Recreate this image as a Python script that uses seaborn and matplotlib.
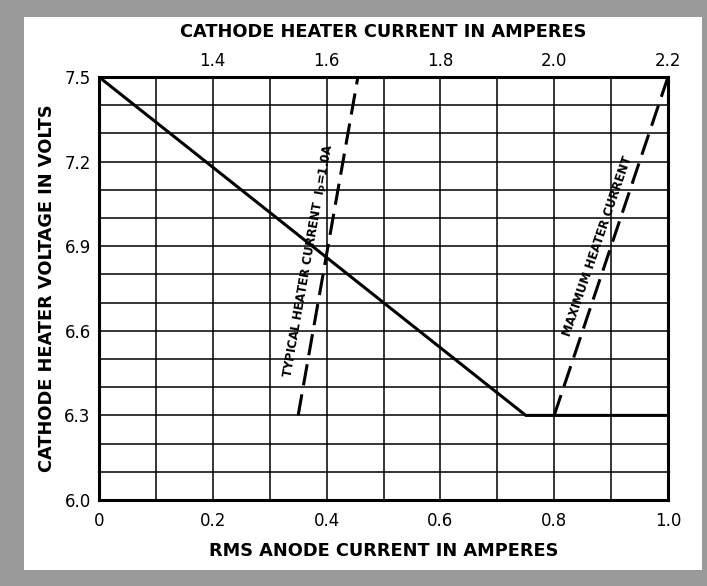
import numpy as np
import matplotlib
matplotlib.use('Agg')
import matplotlib.pyplot as plt
import seaborn as sns

# Valores
anode_current = [0.0, 0.75, 1.0]
cathode_voltage = [7.5, 6.3, 6.3]

typical_heater_current = [1.55, 1.655]
typical_voltage = [6.3, 7.5]

max_heater_current = [2.0, 2.2]
max_voltage = [6.3, 7.5]

anode_ticks = [0.0, 0.2, 0.4, 0.6, 0.8, 1.0]
anode_tick_labels = ['0', '0.2', '0.4', '0.6', '0.8', '1.0']
heater_ticks = [1.4, 1.6, 1.8, 2.0, 2.2]
heater_tick_labels = ['1.4', '1.6', '1.8', '2.0', '2.2']
voltage_ticks = [6.0, 6.3, 6.6, 6.9, 7.2, 7.5]
voltage_tick_labels = ['6.0', '6.3', '6.6', '6.9', '7.2', '7.5']

sns.set_style('white')
plt.rcParams['font.family'] = ['DejaVu Sans']
plt.rcParams['text.color'] = 'black'
plt.rcParams['axes.labelcolor'] = 'black'
plt.rcParams['xtick.color'] = 'black'
plt.rcParams['ytick.color'] = 'black'

W, H = 707, 586
fig = plt.figure(figsize=(W / 100, H / 100), dpi=100)
fig.patch.set_facecolor('#9a9a9a')
# painel branco (papel) dentro da borda cinza
fig.add_artist(plt.Rectangle((24 / W, 1 - 570 / H), (702 - 24) / W, (570 - 17) / H,
                             transform=fig.transFigure, facecolor='white',
                             edgecolor='none', zorder=-1))

ax = fig.add_axes([99 / W, 1 - 500 / H, 569 / W, 423 / H])
ax.set_facecolor('white')

sns.lineplot(x=anode_current, y=cathode_voltage, ax=ax, color='black', lw=2.2, sort=False)

ax.set_xlim(0, 1.0)
ax.set_ylim(6.0, 7.5)
ax.set_xticks(anode_ticks)
ax.set_xticklabels(anode_tick_labels)
ax.set_yticks(voltage_ticks)
ax.set_yticklabels(voltage_tick_labels)
ax.set_xticks(np.round(np.arange(0, 1.01, 0.1), 2), minor=True)
ax.set_yticks(np.round(np.arange(6.0, 7.51, 0.1), 2), minor=True)
ax.grid(True, which='both', color='black', lw=1.1)
ax.tick_params(which='both', length=0)
ax.tick_params(axis='x', pad=9, labelsize=12)
ax.tick_params(axis='y', pad=6, labelsize=12)
for s in ax.spines.values():
    s.set_color('black')
    s.set_linewidth(2.2)

ax.set_xlabel('RMS ANODE CURRENT IN AMPERES', fontsize=12.8, fontweight='bold', labelpad=8)
ax.set_ylabel('CATHODE HEATER VOLTAGE IN VOLTS', fontsize=12.8, fontweight='bold', labelpad=6)

# eixo superior: corrente do aquecedor
ax2 = ax.twiny()
sns.lineplot(x=typical_heater_current, y=typical_voltage, ax=ax2, color='black',
             lw=2.2, linestyle=(0, (7, 3)))
sns.lineplot(x=max_heater_current, y=max_voltage, ax=ax2, color='black',
             lw=2.2, linestyle=(0, (7, 3)))
ax2.set_xlim(1.2, 2.2)
ax2.set_xticks(heater_ticks)
ax2.set_xticklabels(heater_tick_labels)
ax2.tick_params(axis='x', length=0, pad=5, labelsize=12)
ax2.set_xlabel('CATHODE HEATER CURRENT IN AMPERES', fontsize=12.8, fontweight='bold', labelpad=11)
ax2.set_ylabel('')
for s in ax2.spines.values():
    s.set_visible(False)

ax2.text(1.569, 6.85, r'TYPICAL HEATER CURRENT  I$_\mathregular{P}$=1.0A', rotation=80,
         ha='center', va='center', rotation_mode='anchor', fontsize=8.5, fontweight='bold')
ax2.text(2.076, 6.90, 'MAXIMUM HEATER CURRENT', rotation=71,
         ha='center', va='center', rotation_mode='anchor', fontsize=8.5, fontweight='bold')

fig.savefig('out.png', dpi=100, facecolor=fig.get_facecolor())
